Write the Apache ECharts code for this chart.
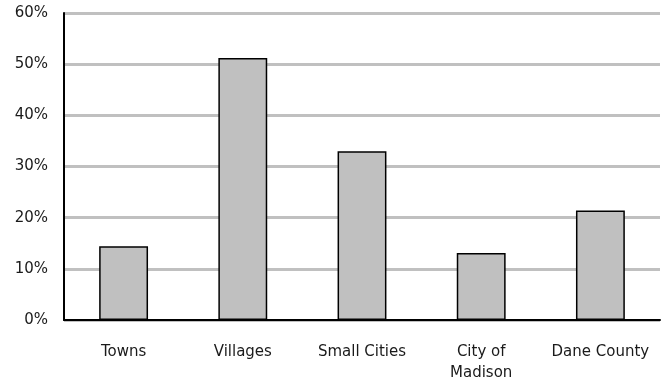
<!DOCTYPE html>
<html>
<head>
<meta charset="utf-8">
<script src="https://cdn.jsdelivr.net/npm/echarts@6/dist/echarts.min.js"></script>
<style>
  html, body { margin: 0; padding: 0; background: #fff; }
  #chart { width: 667px; height: 381px; }
</style>
</head>
<body>
<div id="chart"></div>
<script>
// Share of residents by jurisdiction type
const categories = ['Towns', 'Villages', 'Small Cities', 'City of\nMadison', 'Dane County'];
const values = [14.4, 51.2, 33.0, 13.1, 21.4];
const yTicks = [0, 10, 20, 30, 40, 50, 60];

const labelFont = { color: '#1a1a1a', fontFamily: 'DejaVu Sans', fontSize: 15 };

const chart = echarts.init(document.getElementById('chart'));
chart.setOption({
  animation: false,
  grid: { left: 64, right: 7, top: 13, bottom: 61, containLabel: false, outerBoundsMode: 'none' },
  xAxis: {
    type: 'category',
    data: categories,
    axisLine: { lineStyle: { color: '#000', width: 2 } },
    axisTick: { show: false },
    axisLabel: Object.assign({}, labelFont, { margin: 22, lineHeight: 21, interval: 0, hideOverlap: false })
  },
  yAxis: {
    type: 'value',
    min: yTicks[0],
    max: yTicks[yTicks.length - 1],
    interval: 10,
    axisLine: { show: true, lineStyle: { color: '#000', width: 2 } },
    axisTick: { show: false },
    axisLabel: Object.assign({}, labelFont, { margin: 16, formatter: '{value}%' }),
    splitLine: { lineStyle: { color: '#c0c0c0', width: 3 } }
  },
  series: [{
    type: 'bar',
    data: values,
    barWidth: '41%',
    itemStyle: { color: '#c0c0c0', borderColor: '#000', borderWidth: 1.5 }
  }]
});
</script>
</body>
</html>
